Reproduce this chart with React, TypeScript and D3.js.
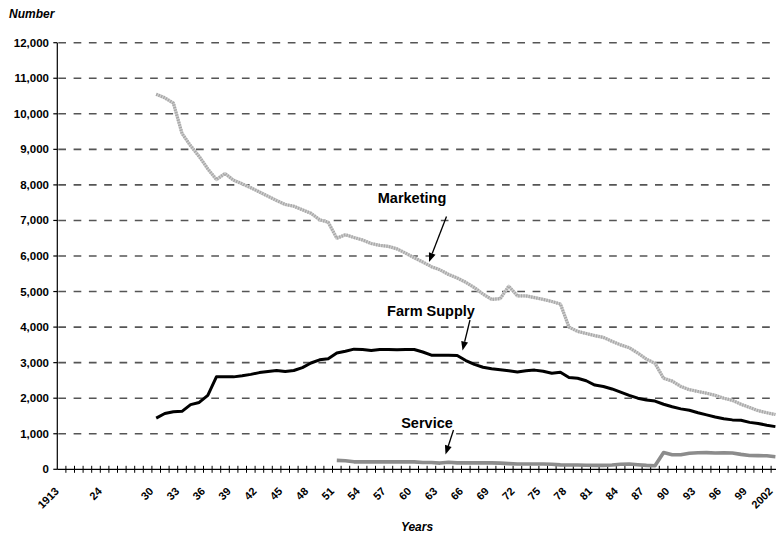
import React from "react";
import * as d3 from "d3";

// Categories: 1913, 1915, 1921 ... 2002
const categories: number[] = [1913, 1915, ...d3.range(1921, 2003)];
const labeledYears: number[] = [1913, 1924, ...d3.range(1930, 2003, 3)];
const yTicks: number[] = d3.range(0, 12001, 1000);

const marketingYears: number[] = d3.range(1930, 2003);
const marketing: number[] = [
  10550, 10450, 10300, 9450, 9100, 8800, 8450, 8150, 8320, 8130,
  8030, 7920, 7800, 7680, 7560, 7450, 7400, 7300, 7200, 7020,
  6950, 6500, 6600, 6520, 6450, 6350, 6300, 6270, 6200, 6080,
  5950, 5830, 5700, 5610, 5480, 5380, 5260, 5110, 4930, 4780,
  4800, 5150, 4880, 4880, 4830, 4780, 4720, 4650, 4000, 3880,
  3820, 3760, 3710, 3600, 3500, 3420, 3270, 3100, 2980, 2560,
  2480, 2330, 2240, 2190, 2140, 2080, 2000, 1940, 1830, 1740,
  1650, 1590, 1540,
];

const farmSupplyYears: number[] = d3.range(1930, 2003);
const farmSupply: number[] = [
  1440, 1570, 1620, 1630, 1820, 1880, 2080, 2600, 2600, 2600,
  2630, 2670, 2720, 2750, 2780, 2750, 2780, 2860, 2990, 3080,
  3110, 3270, 3320, 3380, 3370, 3340, 3370, 3370, 3360, 3370,
  3370, 3300, 3210, 3210, 3210, 3200, 3060, 2950, 2870, 2830,
  2800, 2770, 2740, 2770, 2790, 2760, 2700, 2730, 2580, 2560,
  2490, 2370, 2330, 2260, 2170, 2080, 2000, 1950, 1920, 1830,
  1760, 1700, 1660, 1590, 1530, 1470, 1420, 1390, 1380, 1320,
  1290, 1240, 1200,
];

const serviceYears: number[] = d3.range(1951, 2003);
const service: number[] = [
  250, 240, 210, 210, 210, 210, 210, 210, 210, 210,
  190, 190, 175, 200, 180, 180, 180, 180, 180, 175,
  160, 150, 150, 150, 150, 140, 125, 120, 120, 115,
  110, 110, 120, 140, 150, 130, 110, 100, 470, 410,
  410, 450, 465, 470, 460, 465, 460, 420, 390, 385,
  380, 355,
];

const W = 776;
const H = 538;
const x0 = 57.3;
const bw = 8.6;
const y0 = 469.3;
const yTop = 42.7;

export default function App() {
  const x = d3
    .scaleBand<string>()
    .domain(categories.map(String))
    .range([x0, x0 + categories.length * bw])
    .padding(0);
  const cx = (yr: number) => (x(String(yr)) as number) + x.bandwidth() / 2;
  const y = d3.scaleLinear().domain([0, 12000]).range([y0, yTop]);

  const line = d3
    .line<[number, number]>()
    .x((d) => cx(d[0]))
    .y((d) => y(d[1]));

  const mPath = line(marketingYears.map((yr, i) => [yr, marketing[i]]))!;
  const fPath = line(farmSupplyYears.map((yr, i) => [yr, farmSupply[i]]))!;
  const sPath = line(serviceYears.map((yr, i) => [yr, service[i]]))!;

  const font = "'Liberation Sans', Arial, Helvetica, sans-serif";
  const fmt = d3.format(",");

  const arrow = (x1: number, y1: number, x2: number, y2: number, key: string) => {
    const ang = Math.atan2(y2 - y1, x2 - x1);
    const L = 9;
    const wdt = 3.5;
    const bx = x2 - L * Math.cos(ang);
    const by = y2 - L * Math.sin(ang);
    const px = -Math.sin(ang) * wdt;
    const py = Math.cos(ang) * wdt;
    return (
      <g key={key}>
        <line x1={x1} y1={y1} x2={bx} y2={by} stroke="#000" strokeWidth={1.3} />
        <polygon
          points={`${x2},${y2} ${bx + px},${by + py} ${bx - px},${by - py}`}
          fill="#000"
        />
      </g>
    );
  };

  return (
    <svg
      width={W}
      height={H}
      style={{ position: "absolute", left: 0, top: 0, background: "#fff" }}
      fontFamily={font}
    >
      {/* gridlines */}
      {yTicks
        .filter((t) => t > 0)
        .map((t) => (
          <line
            key={"g" + t}
            x1={x0 + 1}
            x2={W}
            y1={y(t)}
            y2={y(t)}
            stroke="#555"
            strokeWidth={1.6}
            strokeDasharray="7.7 7.6"
          />
        ))}
      {/* y axis */}
      <line x1={x0} x2={x0} y1={yTop} y2={y0} stroke="#000" strokeWidth={1.2} />
      {yTicks.map((t) => (
        <g key={"yt" + t}>
          <line x1={x0 - 4} x2={x0} y1={y(t)} y2={y(t)} stroke="#000" strokeWidth={1.2} />
          <text
            x={49}
            y={y(t) + 4}
            textAnchor="end"
            fontSize={11.5}
            fontWeight="bold"
            fill="#000"
          >
            {fmt(t)}
          </text>
        </g>
      ))}
      {/* x axis */}
      <line x1={x0} x2={W} y1={y0} y2={y0} stroke="#000" strokeWidth={1.2} />
      {categories.map((c, i) => {
        const tx = x0 + (i + 1) * bw;
        return (
          <line key={"xt" + c} x1={tx} x2={tx} y1={y0 - 3.5} y2={y0 + 3.5} stroke="#000" strokeWidth={1} />
        );
      })}
      {labeledYears.map((yr) => {
        const ax = cx(yr) - 2;
        const ay = 492;
        const label = yr === 1913 || yr === 2002 ? String(yr) : String(yr).slice(2);
        return (
          <text
            key={"xl" + yr}
            x={ax}
            y={ay}
            transform={`rotate(-45 ${ax} ${ay})`}
            textAnchor="end"
            fontSize={11}
            fontWeight="bold"
            fill="#000"
          >
            {label}
          </text>
        );
      })}

      {/* series */}
      <path d={mPath} fill="none" stroke="#cfcfcf" strokeWidth={3.2} strokeLinejoin="round" />
      <path d={mPath} fill="none" stroke="#a8a8a8" strokeWidth={3.2} strokeDasharray="1.3 1.3" strokeLinejoin="round" />
      <path d={fPath} fill="none" stroke="#000" strokeWidth={3} strokeLinejoin="round" />
      <path d={sPath} fill="none" stroke="#8c8c8c" strokeWidth={3.6} strokeLinejoin="round" />

      {/* annotations */}
      <text x={412} y={203} textAnchor="middle" fontSize={14.5} fontWeight="bold" fill="#000">
        Marketing
      </text>
      {arrow(446.5, 216.5, 429, 262, "a1")}
      <text x={431} y={316} textAnchor="middle" fontSize={14.5} fontWeight="bold" fill="#000">
        Farm Supply
      </text>
      {arrow(470, 320, 462.5, 350.5, "a2")}
      <text x={427} y={427.5} textAnchor="middle" fontSize={14.5} fontWeight="bold" fill="#000">
        Service
      </text>
      {arrow(453.5, 430, 445.5, 454.5, "a3")}

      {/* titles */}
      <text x={9} y={18} fontSize={12} fontWeight="bold" fontStyle="italic" fill="#000">
        Number
      </text>
      <text x={417} y={531} textAnchor="middle" fontSize={12} fontWeight="bold" fontStyle="italic" fill="#000">
        Years
      </text>
    </svg>
  );
}
